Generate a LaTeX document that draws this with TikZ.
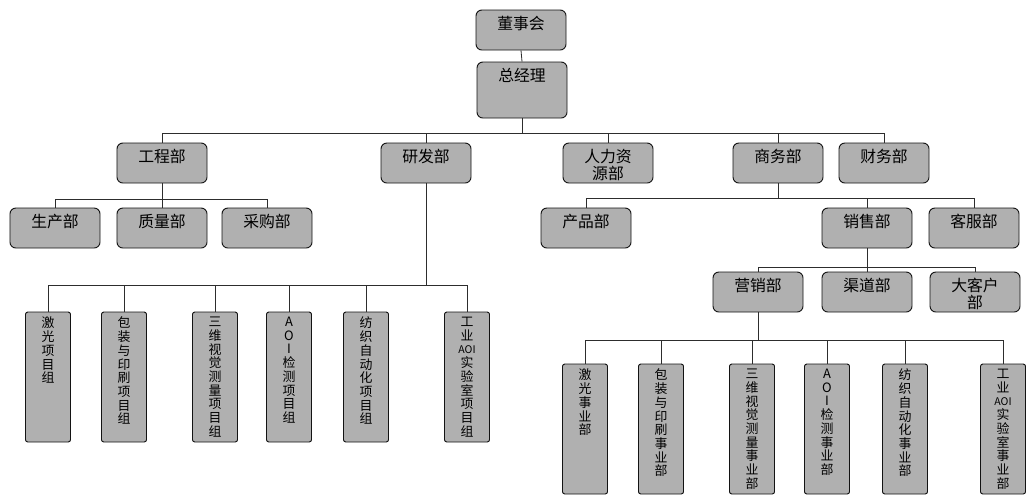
\documentclass[tikz,border=0pt]{standalone}
\usepackage{fontspec}
\newfontfamily\cjk{Noto Sans CJK SC}
\tikzset{
  org/.style={draw=gray!15!black, fill=gray!62, line width=0.8pt, inner sep=0pt},
  hbox/.style={org, rounded corners=5pt, minimum width=2.7cm, minimum height=1.2cm},
  vbox/.style={org, rounded corners=2pt, minimum width=1.35cm, minimum height=3.9cm},
  htext/.style={anchor=north, inner sep=0pt, align=center, text=black,
    font=\cjk\fontsize{13.5}{14.5}\selectfont},
  vtext/.style={anchor=north, inner sep=0pt, align=center, text=black,
    font=\cjk\fontsize{11}{11.7}\selectfont},
  link/.style={draw=gray!35!black, line width=0.7pt}
}
% a horizontal unit: name, centre, text, extra options
\newcommand{\hunit}[4]{%
  \node[hbox,#4] (#1) at (#2) {};
  \node[htext] (#1-t) at ([yshift=-0.19cm]#1.north) {#3};}
% a vertical unit: name, centre, stacked text
\newcommand{\vunit}[3]{%
  \node[vbox] (#1) at (#2) {};
  \node[vtext] (#1-t) at ([yshift=-0.16cm]#1.north) {#3};}
\newcommand{\aoi}{{\fontsize{9}{11.7}\selectfont AOI}}
\begin{document}
\begin{tikzpicture}[x=0.03cm, y=-0.03cm]
\useasboundingbox (0,0) rectangle (1033,495);

% top management
\hunit{dsh}{521,30}{董事会}{}
\hunit{zjl}{522,90}{总经理}{minimum height=1.68cm}

% departments
\hunit{gcb}{162,163}{工程部}{}
\hunit{yfb}{426,163}{研发部}{}
\hunit{rlzy}{608,163}{人力资\\源部}{}
\hunit{swb}{778,163}{商务部}{}
\hunit{cwb}{884,163}{财务部}{}

% under engineering
\hunit{scb}{55,228}{生产部}{}
\hunit{zlb}{162,228}{质量部}{}
\hunit{cgb}{267,228}{采购部}{}

% under business
\hunit{cpb}{586,228}{产品部}{}
\hunit{xsb}{867,228}{销售部}{}
\hunit{kfb}{974,228}{客服部}{}

% under sales
\hunit{yxb}{758,292}{营销部}{}
\hunit{qdb}{867,292}{渠道部}{}
\hunit{dkh}{975,292}{大客户\\部}{}

% R&D project groups
\vunit{p1}{48,377}{激\\光\\项\\目\\组}
\vunit{p2}{124,377}{包\\装\\与\\印\\刷\\项\\目\\组}
\vunit{p3}{215,377}{三\\维\\视\\觉\\测\\量\\项\\目\\组}
\vunit{p4}{289,377}{A\\O\\I\\检\\测\\项\\目\\组}
\vunit{p5}{366,377}{纺\\织\\自\\动\\化\\项\\目\\组}
\vunit{p6}{467,377}{工\\业\\\aoi\\实\\验\\室\\项\\目\\组}

% marketing business units
\vunit{s1}{585,429}{激\\光\\事\\业\\部}
\vunit{s2}{661,429}{包\\装\\与\\印\\刷\\事\\业\\部}
\vunit{s3}{752,429}{三\\维\\视\\觉\\测\\量\\事\\业\\部}
\vunit{s4}{827,429}{A\\O\\I\\检\\测\\事\\业\\部}
\vunit{s5}{905,429}{纺\\织\\自\\动\\化\\事\\业\\部}
\vunit{s6}{1003,429}{工\\业\\\aoi\\实\\验\\室\\事\\业\\部}

% bus points
\coordinate (b0) at (522,133);
\coordinate (b1) at (162,199);
\coordinate (b2) at (426,285);
\coordinate (b3) at (778,198);
\coordinate (b4) at (867,267);
\coordinate (b5) at (758,340);

% connectors
\draw[link] (dsh.south) -- (zjl.north);
\draw[link] (zjl.south) -- (b0);
\foreach \n in {gcb,yfb,rlzy,swb,cwb} \draw[link] (\n.north) |- (b0);
\draw[link] (gcb.south) -- (b1);
\foreach \n in {scb,zlb,cgb} \draw[link] (\n.north) |- (b1);
\draw[link] (yfb.south) -- (b2);
\foreach \n in {p1,p2,p3,p4,p5,p6} \draw[link] (\n.north) |- (b2);
\draw[link] (swb.south) -- (b3);
\foreach \n in {cpb,xsb,kfb} \draw[link] (\n.north) |- (b3);
\draw[link] (xsb.south) -- (b4);
\foreach \n in {yxb,qdb,dkh} \draw[link] (\n.north) |- (b4);
\draw[link] (yxb.south) -- (b5);
\foreach \n in {s1,s2,s3,s4,s5,s6} \draw[link] (\n.north) |- (b5);
\end{tikzpicture}
\end{document}
